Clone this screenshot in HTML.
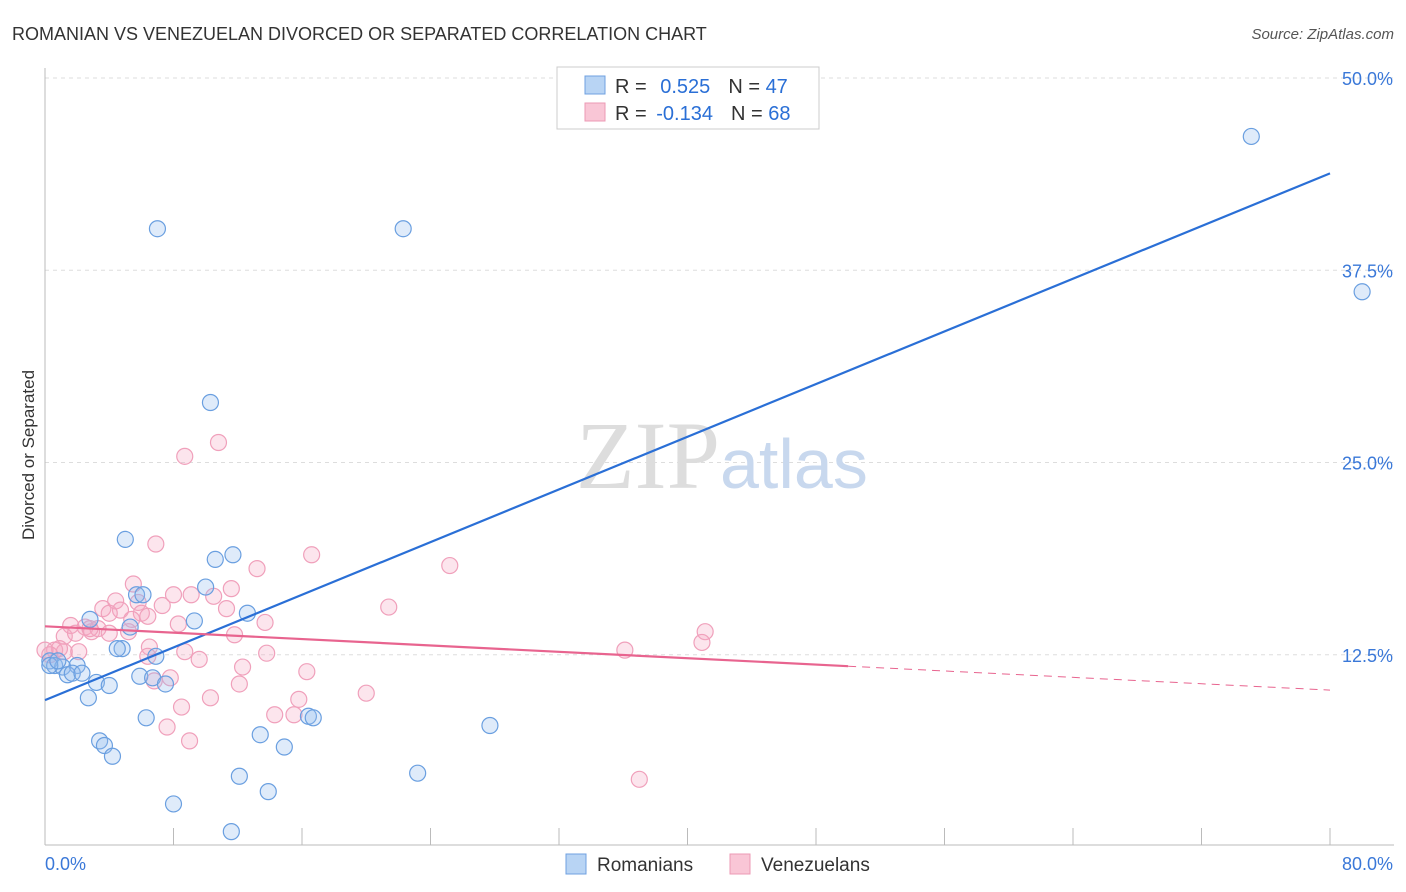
<!DOCTYPE html>
<html><head><meta charset="utf-8"><style>
body{margin:0;background:#fff;font-family:"Liberation Sans",sans-serif;}
svg{display:block}
</style></head><body>
<svg width="1406" height="892" viewBox="0 0 1406 892">
<text x="12" y="40" font-size="18" fill="#333">ROMANIAN VS VENEZUELAN DIVORCED OR SEPARATED CORRELATION CHART</text>
<text x="1394" y="39" font-size="15" fill="#555" font-style="italic" text-anchor="end">Source: ZipAtlas.com</text>
<text x="34" y="455" font-size="17" fill="#333" text-anchor="middle" transform="rotate(-90 34 455)">Divorced or Separated</text>
<g id="grid"></g>
<text x="720" y="488" font-size="96" fill="#ddd" text-anchor="end" font-family="Liberation Serif">ZIP</text>
<text x="720" y="488" font-size="70" fill="#c8d8ee">atlas</text>
<g id="axes"></g>
<g id="pts"></g>
<g id="lines"></g>
<g>
<rect x="557" y="67" width="262" height="62" fill="#fff" stroke="#ccc"/>
<rect x="585" y="76" width="20" height="18" fill="#b8d4f4" stroke="#6fa0e0"/>
<rect x="585" y="103" width="20" height="18" fill="#f9c6d6" stroke="#ec9ab4"/>
<text x="615" y="93" font-size="20" fill="#333">R = <tspan fill="#2a6fd6" dx="8">0.525</tspan><tspan dx="18" fill="#333">N = </tspan><tspan fill="#2a6fd6">47</tspan></text>
<text x="615" y="120" font-size="20" fill="#333">R = <tspan fill="#2a6fd6" dx="4">-0.134</tspan><tspan dx="18" fill="#333">N = </tspan><tspan fill="#2a6fd6">68</tspan></text>
</g>
<g>
<rect x="566" y="854" width="20" height="20" fill="#b8d4f4" stroke="#6fa0e0"/>
<text x="597" y="871" font-size="19" fill="#333">Romanians</text>
<rect x="730" y="854" width="20" height="20" fill="#f9c6d6" stroke="#ec9ab4"/>
<text x="761" y="871" font-size="19" fill="#333">Venezuelans</text>
</g>
</svg>
<script>
const yTicks=[12.5,25,37.5,50];
const yTickLabels=["12.5%","25.0%","37.5%","50.0%"];
const xTickCount=10;
const romaniansX=[75.1,7.0,22.3,82.0,10.3,5.0,11.7,10.6,10.0,5.7,6.1,12.6,9.3,2.8,5.3,4.8,4.5,6.9,0.3,0.6,1.1,2.0,1.4,1.7,2.3,3.2,4.0,5.9,6.7,7.5,2.7,6.3,16.4,16.7,27.7,3.4,3.7,4.2,13.4,14.9,12.1,23.2,13.9,8.0,11.6,0.3,0.8];
const romaniansY=[46.2,40.2,40.2,36.1,28.9,20.0,19.0,18.7,16.9,16.4,16.4,15.2,14.7,14.8,14.3,12.9,12.9,12.4,12.1,11.8,11.7,11.8,11.2,11.3,11.3,10.7,10.5,11.1,11.0,10.6,9.7,8.4,8.5,8.4,7.9,6.9,6.6,5.9,7.3,6.5,4.6,4.8,3.6,2.8,1.0,11.8,12.1];
const venezuelansX=[8.7,10.8,6.9,16.6,25.2,13.2,5.5,11.6,8.0,9.1,10.5,4.4,5.8,3.6,4.7,6.0,7.3,11.3,21.4,4.0,6.4,5.4,8.3,13.7,1.6,2.5,2.9,3.3,5.2,11.8,1.2,1.9,4.0,2.8,6.5,0.6,1.2,2.1,0.9,8.7,9.6,6.4,13.8,12.3,16.3,7.8,6.8,12.1,20.0,10.3,15.8,8.5,14.3,15.5,7.6,9.0,41.1,40.9,36.1,37.0,0.3,0.0];
const venezuelansY=[25.4,26.3,19.7,19.0,18.3,18.1,17.1,16.8,16.4,16.4,16.3,16.0,15.9,15.5,15.4,15.2,15.7,15.5,15.6,15.2,15.0,14.8,14.5,14.6,14.4,14.3,14.0,14.2,14.0,13.8,13.7,13.9,13.9,14.2,13.0,12.8,12.7,12.7,12.9,12.7,12.2,12.4,12.6,11.7,11.4,11.0,10.8,10.6,10.0,9.7,9.6,9.1,8.6,8.6,7.8,6.9,14.0,13.3,12.8,4.4,12.5,12.8];
const blueLine=[9.55,43.8];
const pinkLine=[14.35,10.2];
const pinkSolidEnd=50;
const NS="http://www.w3.org/2000/svg";
const X0=45,X1=1330,Y0=847,Y50=78;
function sx(v){return X0+(X1-X0)*v/80;}
function sy(v){return Y0-(Y0-Y50)*v/50;}
function mk(tag,attrs,parent){const e=document.createElementNS(NS,tag);for(const k in attrs)e.setAttribute(k,attrs[k]);document.getElementById(parent).appendChild(e);return e;}
yTicks.forEach((t,i)=>{
 const l=mk('line',{x1:X0,x2:1394,y1:sy(t),y2:sy(t),stroke:'#ddd','stroke-dasharray':'4,4'},'grid');
 
 
 const tx=mk('text',{x:1393,y:sy(t)+7,'font-size':18,fill:'#3a78d8','text-anchor':'end'},'axes');
 tx.textContent=yTickLabels[i];
 
 
});
const gt=mk('line',{x1:X0,x2:1394,y1:78,y2:78,stroke:'#ddd','stroke-dasharray':'4,4'},'grid');


const ya=mk('line',{x1:X0,x2:X0,y1:68,y2:845,stroke:'#bbb'},'axes');


const xa=mk('line',{x1:X0,x2:1394,y1:845,y2:845,stroke:'#bbb'},'axes');


for(let i=0;i<=xTickCount;i++){
 const t=mk('line',{x1:sx(i*8),x2:sx(i*8),y1:828,y2:845,stroke:'#bbb'},'axes');
 
 
}
const xl0=mk('text',{x:45,y:870,'font-size':18,fill:'#3a78d8'},'axes');xl0.textContent='0.0%';


const xl1=mk('text',{x:1393,y:870,'font-size':18,fill:'#3a78d8','text-anchor':'end'},'axes');xl1.textContent='80.0%';


venezuelansX.forEach((x,i)=>{
 const c=mk('circle',{cx:sx(x),cy:sy(venezuelansY[i]),r:8,fill:'rgba(246,170,195,0.3)',stroke:'#f0a0bb','stroke-width':1.2},'pts');
 
 
});
romaniansX.forEach((x,i)=>{
 const c=mk('circle',{cx:sx(x),cy:sy(romaniansY[i]),r:8,fill:'rgba(150,190,240,0.3)',stroke:'#6a9fe0','stroke-width':1.2},'pts');
 
 
});
const bl=mk('line',{x1:sx(0),y1:sy(blueLine[0]),x2:sx(80),y2:sy(blueLine[1]),stroke:'#2a6fd6','stroke-width':2.2},'lines');


const pAt=x=>pinkLine[0]+(pinkLine[1]-pinkLine[0])*x/80;
const pl=mk('line',{x1:sx(0),y1:sy(pAt(0)),x2:sx(pinkSolidEnd),y2:sy(pAt(pinkSolidEnd)),stroke:'#e8648f','stroke-width':2.2},'lines');


const pd=mk('line',{x1:sx(pinkSolidEnd),y1:sy(pAt(pinkSolidEnd)),x2:sx(80),y2:sy(pAt(80)),stroke:'#e8648f','stroke-width':1,'stroke-dasharray':'8,6'},'lines');


</script>
</body></html>
